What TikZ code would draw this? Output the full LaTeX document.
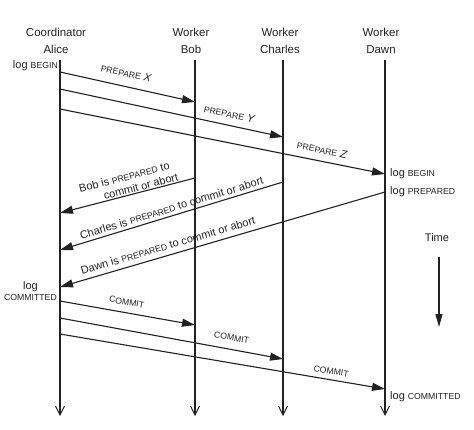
\documentclass[tikz,border=0pt]{standalone}
\usepackage{fontspec}
\setmainfont{Liberation Sans}
\usetikzlibrary{arrows.meta}
\definecolor{ink}{HTML}{222222}
\newcommand\smc[1]{{\fontsize{8.7}{10}\selectfont\MakeUppercase{#1}}}

\begin{document}
\begin{tikzpicture}[x=1pt,y=-1pt,
    every node/.style={text=ink,font=\fontsize{11}{13}\selectfont},
    lifeline/.style={draw=ink,line width=1.1pt,-{Straight Barb[length=9pt,width=9pt,line width=1pt]}},
    msg/.style={draw=ink,line width=1.1pt,-{Triangle[length=13pt,width=8pt]}},
    msglabel/.style={sloped,inner sep=1pt},
    head/.style={align=center,font=\fontsize{11.5}{17}\selectfont},
    logtext/.style={inner sep=1pt}]
  \useasboundingbox (0,0) rectangle (474,429);
  % --- Participants ---
  \node[head] (alice)   at (56,41)  {Coordinator\\Alice};
  \node[head] (bob)     at (191,41) {Worker\\Bob};
  \node[head] (charles) at (280,41) {Worker\\Charles};
  \node[head] (dawn)    at (381,41) {Worker\\Dawn};
  % --- Lifelines ---
  \coordinate (a0) at (60,60);  \coordinate (a1) at (60,416);
  \coordinate (b0) at (195,60); \coordinate (b1) at (195,416);
  \coordinate (c0) at (283,60); \coordinate (c1) at (283,416);
  \coordinate (d0) at (385,60); \coordinate (d1) at (385,416);
  \draw[lifeline] (a0) -- (a1);
  \draw[lifeline] (b0) -- (b1);
  \draw[lifeline] (c0) -- (c1);
  \draw[lifeline] (d0) -- (d1);
  % --- Prepare ---
  \coordinate (ap1) at (60,72);  \coordinate (bp) at (195,102);
  \coordinate (ap2) at (60,89);  \coordinate (cp) at (283,137);
  \coordinate (ap3) at (60,109); \coordinate (dp) at (385,174);
  \node[logtext,anchor=east] (alog) at (59,66) {log \smc{begin}};
  \draw[msg] (ap1) -- node[msglabel,pos=0.47,above=8pt] {\smc{prepare} \textit{X}} (bp);
  \draw[msg] (ap2) -- node[msglabel,pos=0.75,above=6pt] {\smc{prepare} \textit{Y}} (cp);
  \draw[msg] (ap3) -- node[msglabel,pos=0.80,above=6pt] {\smc{prepare} \textit{Z}} (dp);
  \node[logtext,anchor=west] (dlog1) at (389,174) {log \smc{begin}};
  \node[logtext,anchor=west] (dlog2) at (389,192) {log \smc{prepared}};
  % --- Prepared replies ---
  \coordinate (bs) at (195,178); \coordinate (ar1) at (60,213);
  \coordinate (cs) at (283,182); \coordinate (ar2) at (60,250);
  \coordinate (ds) at (385,192); \coordinate (ar3) at (60,287);
  \draw[msg] (bs) -- node[msglabel,pos=0.47,above=0pt,align=left]
    {Bob is \smc{prepared} to\\\hspace*{2em}commit or abort} (ar1);
  \draw[msg] (cs) -- node[msglabel,pos=0.49,above=2pt]
    {Charles is \smc{prepared} to commit or abort} (ar2);
  \draw[msg] (ds) -- node[msglabel,pos=0.66,above=4pt]
    {Dawn is \smc{prepared} to commit or abort} (ar3);
  \node[logtext,anchor=east,align=center] (alog2) at (58,291) {log\\[-2pt]\smc{committed}};
  % --- Commit ---
  \coordinate (ac1) at (60,301); \coordinate (bc) at (195,325);
  \coordinate (ac2) at (60,318); \coordinate (cc) at (283,359);
  \coordinate (ac3) at (60,334); \coordinate (dc) at (385,389);
  \draw[msg] (ac1) -- node[msglabel,pos=0.48,above=6pt] {\smc{commit}} (bc);
  \draw[msg] (ac2) -- node[msglabel,pos=0.76,above=7pt] {\smc{commit}} (cc);
  \draw[msg] (ac3) -- node[msglabel,pos=0.83,above=4pt] {\smc{commit}} (dc);
  \node[logtext,anchor=west] (dlog3) at (389,397) {log \smc{committed}};
  % --- Time ---
  \node (time) at (437,238) {Time};
  \coordinate (t0) at (439,257); \coordinate (t1) at (439,327);
  \draw[draw=ink,line width=1.1pt,-{Triangle[length=13pt,width=7pt]}] (t0) -- (t1);
\end{tikzpicture}
\end{document}
